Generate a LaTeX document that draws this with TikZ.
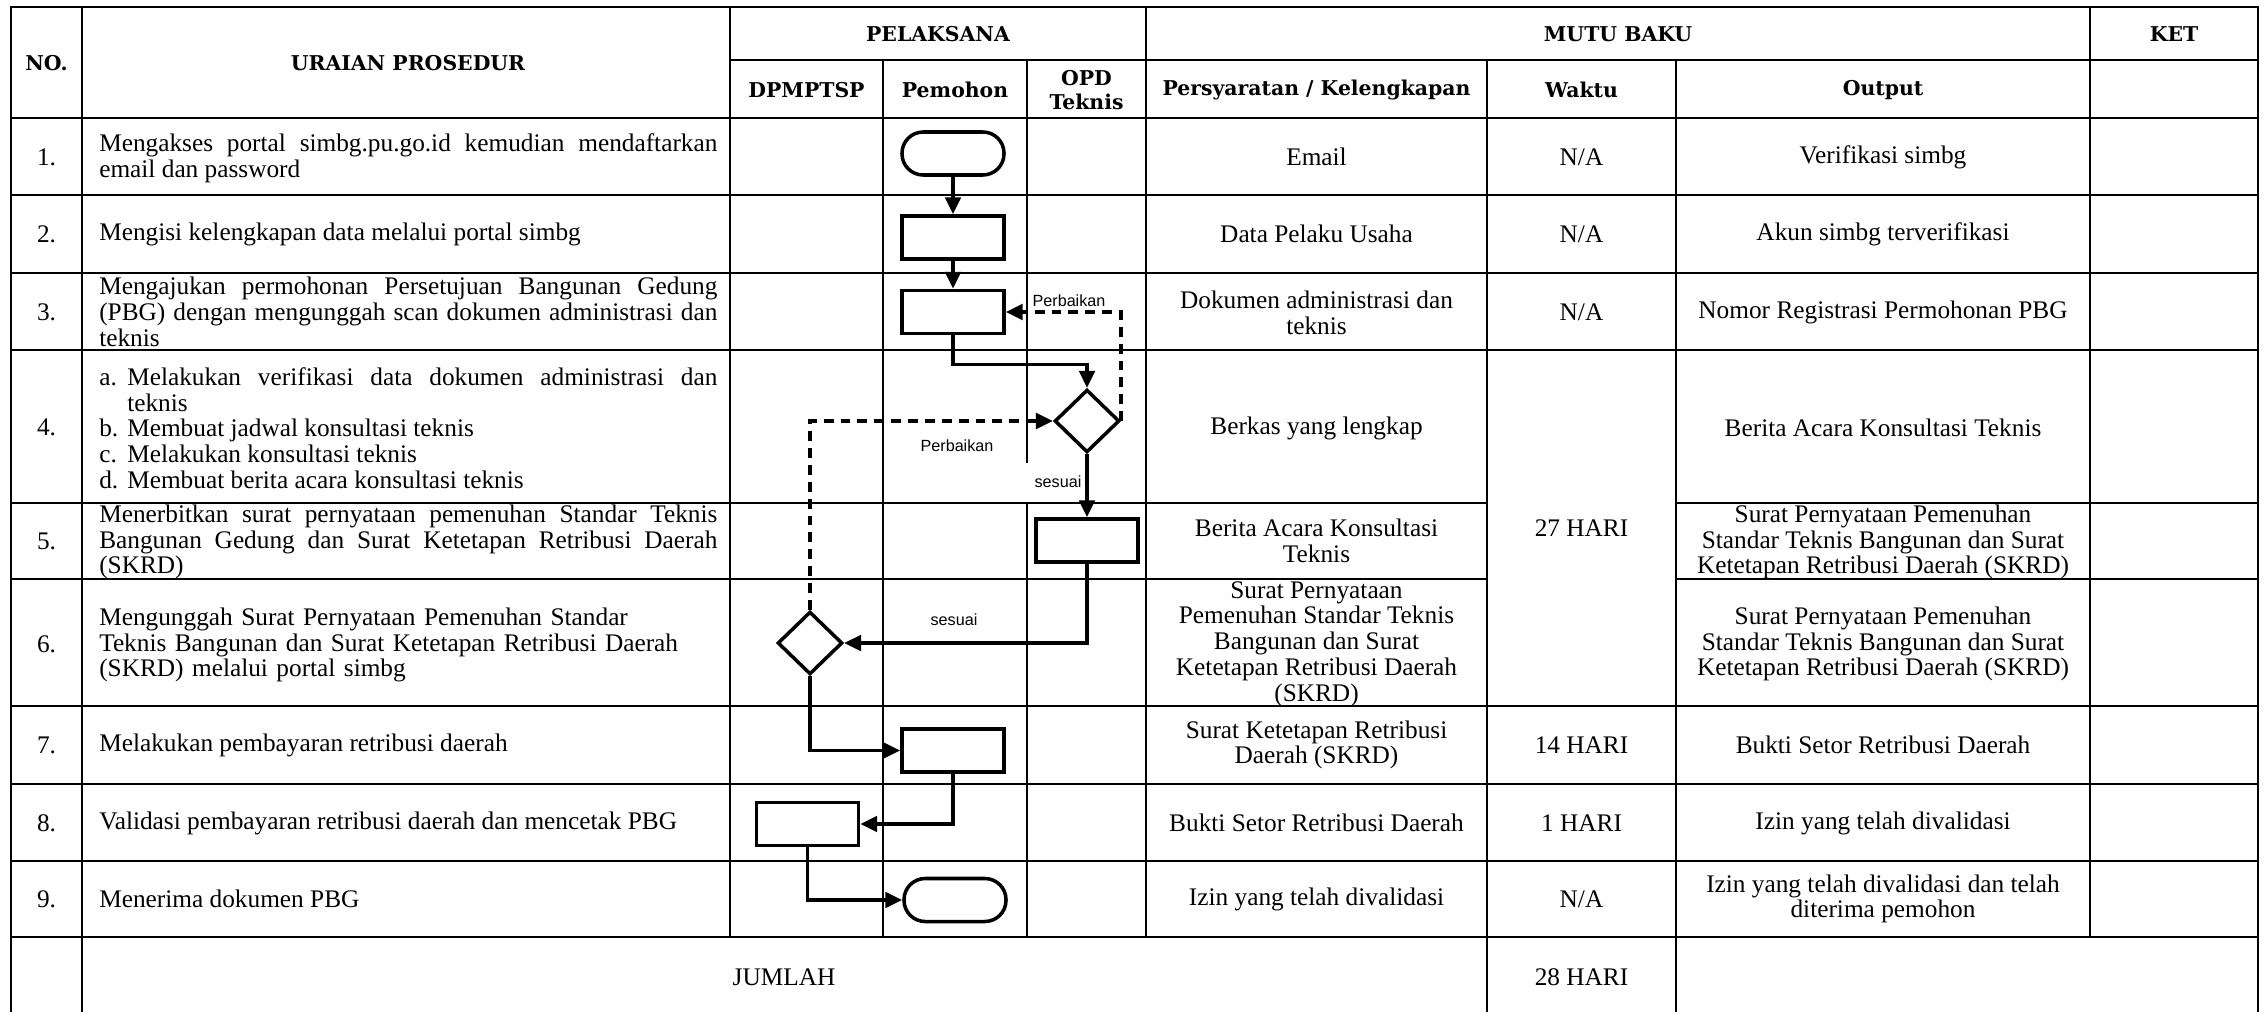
\documentclass[tikz,border=0pt]{standalone}
\usepackage{fontspec}
\setmainfont{Liberation Serif}
\newfontfamily\hdrfont{DejaVu Serif}
\newfontfamily\lblfont{Liberation Sans}
\usetikzlibrary{arrows.meta,shapes.geometric,calc}
\begin{document}
\begin{tikzpicture}[x=0.025cm,y=-0.025cm,
  grid/.style={line width=1.9pt, line cap=rect},
  hdr/.style={font={\hdrfont\bfseries\fontsize{14.5pt}{16.5pt}\selectfont}, align=center, inner sep=0pt},
  txt/.style={font={\fontsize{18pt}{18.3pt}\selectfont}, align=center, inner sep=0pt},
  para/.style={font={\fontsize{18pt}{18.3pt}\selectfont}, text width=15.45cm, align=justify, inner sep=0pt, anchor=west},
  ragged/.style={para, align=left},
  lbl/.style={font={\lblfont\fontsize{11.5pt}{13pt}\selectfont}, inner sep=1pt},
  proc/.style={draw, line width=2.5pt, minimum width=2.55cm, minimum height=1.075cm, inner sep=0pt},
  term/.style={proc, rounded corners=0.53cm},
  dec/.style={draw, diamond, line width=2.5pt, minimum width=1.62cm, minimum height=1.57cm, inner sep=0pt},
  flow/.style={line width=2.5pt, -{Triangle[length=12pt,width=11pt]}},
  back/.style={flow, dash pattern=on 7pt off 5pt},
]
\fill[white] (0,0) rectangle (2268,1012);
\useasboundingbox (0,0) rectangle (2268,1012);

% ---------- grid ----------
\draw[grid] (11,7) -- (2258,7);
\draw[grid] (730,60) -- (2258,60);
\foreach \y in {118,195,273,350,706,784,861,937} \draw[grid] (11,\y) -- (2258,\y);
\foreach \y in {503,579} {\draw[grid] (11,\y) -- (1487,\y); \draw[grid] (1676,\y) -- (2258,\y);}
\foreach \x in {11,82,2258} \draw[grid] (\x,7) -- (\x,1012);
\foreach \x in {1487,1676} \draw[grid] (\x,60) -- (\x,1012);
\foreach \x in {730,1146,2090} \draw[grid] (\x,7) -- (\x,937);
\draw[grid] (883,60) -- (883,937);
\draw[grid] (1027,60) -- (1027,462);
\draw[grid] (1027,503) -- (1027,937);

% ---------- header ----------
\node[hdr] (hno) at (46.5,63) {NO.};
\node[hdr] (hur) at (408,63) {URAIAN PROSEDUR};
\node[hdr] (hpl) at (938,34) {PELAKSANA};
\node[hdr] (hmb) at (1618,34) {MUTU BAKU};
\node[hdr] (hket) at (2174,34) {KET};
\node[hdr] (hdp) at (806.5,90) {DPMPTSP};
\node[hdr] (hpm) at (955,90) {Pemohon};
\node[hdr] (hopd) at (1086.5,90) {OPD\\Teknis};
\node[hdr] (hps) at (1316.5,90) {Persyaratan / Kelengkapan};
\node[hdr] (hwk) at (1581.5,90) {Waktu};
\node[hdr] (hout) at (1883,90) {Output};

% ---------- numbers ----------
\node[txt] (n1) at (46.5,157) {1.};
\node[txt] (n2) at (46.5,234) {2.};
\node[txt] (n3) at (46.5,312) {3.};
\node[txt] (n4) at (46.5,427) {4.};
\node[txt] (n5) at (46.5,541) {5.};
\node[txt] (n6) at (46.5,644) {6.};
\node[txt] (n7) at (46.5,745) {7.};
\node[txt] (n8) at (46.5,823) {8.};
\node[txt] (n9) at (46.5,899) {9.};

% ---------- uraian ----------
\node[para] (u1) at (99,158) {Mengakses portal simbg.pu.go.id kemudian mendaftarkan\linebreak email dan password};
\node[para] (u2) at (99,234) {Mengisi kelengkapan data melalui portal simbg};
\node[para] (u3) at (99,312) {Mengajukan permohonan Persetujuan Bangunan Gedung\linebreak (PBG) dengan mengunggah scan dokumen administrasi dan\linebreak teknis};
\node[para] (u4) at (99,428) {\hangindent=0.7cm\hangafter=1\noindent\makebox[0.7cm][l]{a.}Melakukan verifikasi data dokumen administrasi dan\linebreak teknis\par
\noindent\makebox[0.7cm][l]{b.}Membuat jadwal konsultasi teknis\par
\noindent\makebox[0.7cm][l]{c.}Melakukan konsultasi teknis\par
\noindent\makebox[0.7cm][l]{d.}Membuat berita acara konsultasi teknis};
\node[para] (u5) at (99,542) {Menerbitkan surat pernyataan pemenuhan Standar Teknis\linebreak Bangunan Gedung dan Surat Ketetapan Retribusi Daerah\linebreak (SKRD)};
\node[ragged] (u6) at (99,645) {Mengunggah Surat Pernyataan Pemenuhan Standar\\Teknis Bangunan dan Surat Ketetapan Retribusi Daerah\\(SKRD) melalui portal simbg};
\node[para] (u7) at (99,745) {Melakukan pembayaran retribusi daerah};
\node[para] (u8) at (99,823) {Validasi pembayaran retribusi daerah dan mencetak PBG};
\node[para] (u9) at (99,899) {Menerima dokumen PBG};
\node[txt] (jml) at (784,977) {JUMLAH};

% ---------- persyaratan ----------
\node[txt] (s1) at (1316.5,157) {Email};
\node[txt] (s2) at (1316.5,234) {Data Pelaku Usaha};
\node[txt] (s3) at (1316.5,313) {Dokumen administrasi dan\\teknis};
\node[txt] (s4) at (1316.5,428) {Berkas yang lengkap};
\node[txt] (s5) at (1316.5,541) {Berita Acara Konsultasi\\Teknis};
\node[txt] (s6) at (1316.5,644) {Surat Pernyataan\\Pemenuhan Standar Teknis\\Bangunan dan Surat\\Ketetapan Retribusi Daerah\\(SKRD)};
\node[txt] (s7) at (1316.5,745) {Surat Ketetapan Retribusi\\Daerah (SKRD)};
\node[txt] (s8) at (1316.5,823) {Bukti Setor Retribusi Daerah};
\node[txt] (s9) at (1316.5,899) {Izin yang telah divalidasi};

% ---------- waktu ----------
\node[txt] (w1) at (1581.5,157) {N/A};
\node[txt] (w2) at (1581.5,234) {N/A};
\node[txt] (w3) at (1581.5,312) {N/A};
\node[txt] (w4) at (1581.5,528) {27 HARI};
\node[txt] (w7) at (1581.5,745) {14 HARI};
\node[txt] (w8) at (1581.5,823) {1 HARI};
\node[txt] (w9) at (1581.5,899) {N/A};
\node[txt] (wt) at (1581.5,977) {28 HARI};

% ---------- output ----------
\node[txt] (o1) at (1883,157) {Verifikasi simbg};
\node[txt] (o2) at (1883,234) {Akun simbg terverifikasi};
\node[txt] (o3) at (1883,312) {Nomor Registrasi Permohonan PBG};
\node[txt] (o4) at (1883,428) {Berita Acara Konsultasi Teknis};
\node[txt] (o5) at (1883,542) {Surat Pernyataan Pemenuhan\\Standar Teknis Bangunan dan Surat\\Ketetapan Retribusi Daerah (SKRD)};
\node[txt] (o6) at (1883,644) {Surat Pernyataan Pemenuhan\\Standar Teknis Bangunan dan Surat\\Ketetapan Retribusi Daerah (SKRD)};
\node[txt] (o7) at (1883,745) {Bukti Setor Retribusi Daerah};
\node[txt] (o8) at (1883,823) {Izin yang telah divalidasi};
\node[txt] (o9) at (1883,899) {Izin yang telah divalidasi dan telah\\diterima pemohon};

% ---------- flowchart ----------
\node[term] (t1) at (953,153.5) {};
\node[proc] (p2) at (953,237.5) {};
\node[proc] (p3) at (953,312) {};
\node[dec]  (d1) at (1087,421) {};
\node[proc] (p5) at (1087,540.5) {};
\node[dec]  (d2) at (810,643) {};
\node[proc] (p7) at (953,750.5) {};
\node[proc] (p8) at (807.5,824) {};
\node[term] (t9) at (955,900) {};

\draw[flow] (t1) -- (p2);
\draw[flow] (p2) -- (p3);
\draw[flow] (p3.south) -- ++(0,29) -| (d1.north);
\draw[back] (d1.east) |- (p3.east);
\draw[back] (d2.north) |- (d1.west);
\draw[flow] (d1.south) -- (p5.north);
\draw[flow] (p5.south) |- (d2.east);
\draw[flow] (d2.south) |- (p7.west);
\draw[flow] (p7.south) |- (p8.east);
\draw[flow] (p8.south) |- (t9.west);

\node[lbl] (lb1) at (1069,301) {Perbaikan};
\node[lbl] (lb2) at (957,446) {Perbaikan};
\node[lbl] (lb3) at (1058,482) {sesuai};
\node[lbl] (lb4) at (954,620) {sesuai};
\end{tikzpicture}
\end{document}
